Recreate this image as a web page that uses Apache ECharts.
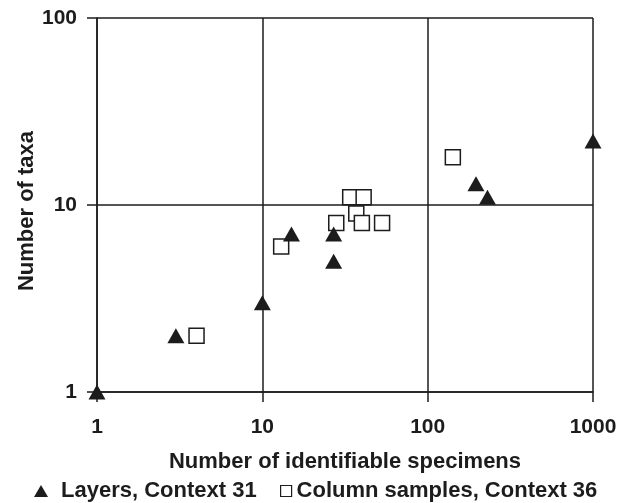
<!DOCTYPE html>
<html lang="en">
<head>
    <meta charset="UTF-8">
    <title>Number of taxa vs identifiable specimens</title>
    <script src="https://cdn.jsdelivr.net/npm/echarts@6/dist/echarts.min.js"></script>
    <style>
        html, body { margin: 0; padding: 0; background: #fff; }
        #chart { width: 622px; height: 503px; }
    </style>
</head>
<body>
    <div id="chart"></div>
    <script type="text/javascript">
    // values: [specimens, taxa]
    const layersName = 'Layers, Context 31';
    const layersSpecimens = [1, 3, 10, 15, 27, 27, 196, 230, 1000];
    const layersTaxa      = [1, 2, 3, 7, 7, 5, 13, 11, 22];

    const columnName = 'Column samples, Context 36';
    const columnSpecimens = [4, 13, 28, 34, 41, 37, 40, 53, 142];
    const columnTaxa      = [2, 6, 8, 11, 11, 9, 8, 8, 18];

    const xTicks = [1, 10, 100, 1000];
    const yTicks = [1, 10, 100];

    const ink = '#1c1c1c';
    const font = 'Liberation Sans, Arial, sans-serif';

    // zip two lists into [x, y] pairs for the scatter series
    function pairs(xs, ys) {
        return xs.map((x, i) => [x, ys[i]]);
    }

    var chart = echarts.init(document.getElementById('chart'));

    var option = {
        animation: false,
        backgroundColor: '#fff',
        grid: { left: 97, right: 29, top: 18, bottom: 111 },
        xAxis: {
            type: 'log',
            logBase: 10,
            min: xTicks[0],
            max: xTicks[xTicks.length - 1],
            name: 'Number of identifiable specimens',
            nameLocation: 'middle',
            nameGap: 59,
            nameMoveOverlap: false,
            nameTextStyle: { color: ink, fontFamily: font, fontWeight: 'bold', fontSize: 22 },
            axisLine: { show: true, lineStyle: { color: ink, width: 1.5 } },
            axisTick: { show: true, inside: false, length: 10, lineStyle: { color: ink, width: 1.5 } },
            minorTick: { show: false },
            axisLabel: {
                color: ink, fontFamily: font, fontWeight: 'bold', fontSize: 21, margin: 25,
                formatter: (v) => String(v)   // plain 1000, no thousands comma
            },
            splitLine: { show: true, lineStyle: { color: ink, width: 1.5 } }
        },
        yAxis: {
            type: 'log',
            logBase: 10,
            min: yTicks[0],
            max: yTicks[yTicks.length - 1],
            name: 'Number of taxa',
            nameLocation: 'middle',
            nameGap: 59,
            nameMoveOverlap: false,
            // right padding nudges the rotated title a little lower, as in the original
            nameTextStyle: { color: ink, fontFamily: font, fontWeight: 'bold', fontSize: 22, padding: [0, 12, 0, 0] },
            axisLine: { show: true, lineStyle: { color: ink, width: 1.5 } },
            axisTick: { show: true, inside: false, length: 10, lineStyle: { color: ink, width: 1.5 } },
            minorTick: { show: false },
            axisLabel: {
                color: ink, fontFamily: font, fontWeight: 'bold', fontSize: 21, margin: 20,
                formatter: (v) => String(v)
            },
            splitLine: { show: true, lineStyle: { color: ink, width: 1.5 } }
        },
        legend: [
            {
                data: [layersName],
                left: 34,
                top: 480,
                padding: 0,
                icon: 'triangle',
                itemWidth: 14,
                itemHeight: 12,
                symbolKeepAspect: false,
                itemStyle: { color: ink, borderWidth: 0 },
                textStyle: { color: ink, fontFamily: font, fontWeight: 'bold', fontSize: 22, padding: [0, 0, 0, 8] }
            },
            {
                data: [columnName],
                left: 280,
                top: 480,
                padding: 0,
                icon: 'rect',
                itemWidth: 11,
                itemHeight: 11,
                symbolKeepAspect: false,
                itemStyle: { color: '#fff', borderColor: ink, borderWidth: 1.2 },
                textStyle: { color: ink, fontFamily: font, fontWeight: 'bold', fontSize: 22 }
            }
        ],
        series: [
            {
                name: columnName,
                type: 'scatter',
                symbol: 'rect',
                symbolSize: 15,
                itemStyle: { color: '#fff', borderColor: ink, borderWidth: 1.5, opacity: 1 },
                data: pairs(columnSpecimens, columnTaxa),
                z: 3
            },
            {
                name: layersName,
                type: 'scatter',
                symbol: 'triangle',
                symbolSize: [17, 15],
                itemStyle: { color: ink, opacity: 1 },
                data: pairs(layersSpecimens, layersTaxa),
                z: 4
            }
        ]
    };
    chart.setOption(option);
    </script>
</body>
</html>
